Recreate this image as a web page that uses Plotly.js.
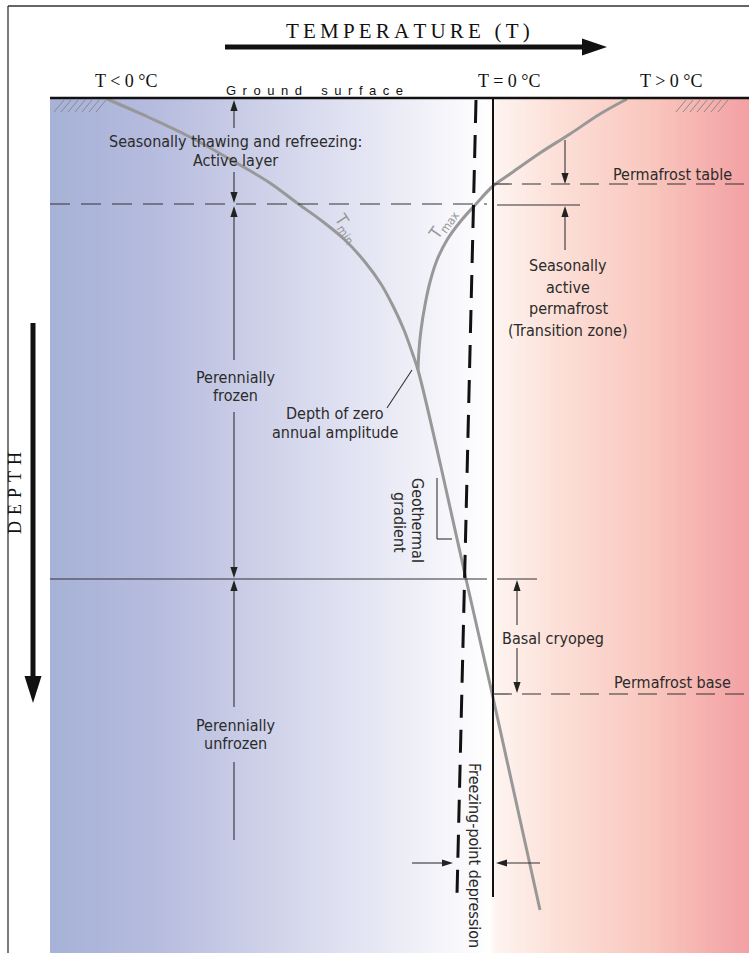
<!DOCTYPE html>
<html><head><meta charset="utf-8">
<script src="https://cdn.plot.ly/plotly-3.0.1.min.js"></script>
<style>html,body{margin:0;padding:0;background:#fff}</style>
</head><body><div id="chart" style="width:749px;height:953px"></div>
<script>
// Diagram units: x = temperature position across the drawing, y = depth position (down is deeper)
const groundDepth = 98;
const zeroT = 493;
const tableDepth = 184;
const activeBase = 204;
const frozenBase = 579;
const pfBaseDepth = 694;
const profileBottom = 897;

// T min profile (cold season) and its continuation below the depth of zero annual amplitude
const tminT     = [107, 148, 190, 240, 270, 297, 322, 345, 365, 381, 393, 404, 412, 418, 441, 466, 492, 540];
const tminDepth = [ 99, 117, 137, 165, 183, 203, 221, 240, 262, 284, 306, 330, 352, 370, 467, 579, 693, 910];
// T max profile (warm season)
const tmaxT     = [627, 600, 570, 540, 510, 493, 476, 460, 447, 437, 430, 425, 421, 419, 418];
const tmaxDepth = [ 99, 114, 134, 153, 174, 186, 204, 222, 240, 260, 282, 305, 330, 350, 370];
// depressed freezing point line
const fpT     = [476, 457];
const fpDepth = [100, 895];
// 0 °C line
const zeroLineT = [zeroT, zeroT];
const zeroLineDepth = [groundDepth, profileBottom];

// background temperature gradient stops (cold -> warm)
const gradPos = [50, 150, 250, 350, 440, 490, 495, 550, 650, 749];
const gradCol = ['rgb(166,178,215)','rgb(181,187,222)','rgb(203,206,231)','rgb(225,226,242)',
                 'rgb(244,244,250)','rgb(255,255,255)','rgb(254,244,240)','rgb(252,226,218)',
                 'rgb(249,199,190)','rgb(243,160,163)'];

// hatch marks at ground surface
const hatchLeft = [54, 61, 68, 75, 82, 89, 96];
const hatchRight = [676, 683, 690, 697, 704, 711, 718];

const sans = 'Liberation Sans Narrow, DejaVu Sans Condensed, Roboto, Arial Narrow, sans-serif';
const serif = 'Liberation Serif, Times New Roman, serif';
const txtCol = '#2b2b2b';

// ---- background heatmap
const gmin = gradPos[0], gmax = gradPos[gradPos.length-1];
const colorscale = gradPos.map((p,i)=>[(p-gmin)/(gmax-gmin), gradCol[i]]);
const edges = [];
for (let x = 50; x < zeroT; x += 2) edges.push(x);
for (let x = zeroT; x < 749; x += 2) edges.push(x);
edges.push(749);
const zrow = [];
for (let i = 0; i < edges.length-1; i++) zrow.push((edges[i]+edges[i+1])/2);

const traces = [];
traces.push({type:'heatmap', x: edges, y:[groundDepth, 953], z:[zrow], colorscale, zmin:gmin, zmax:gmax,
  showscale:false, hoverinfo:'skip', zsmooth:false});

// hatches
function hatchTrace(xs){
  const X=[],Y=[];
  xs.forEach(x=>{X.push(x, x+10, null); Y.push(112, 100, null);});
  return {type:'scatter', mode:'lines', x:X, y:Y, line:{color:'#8a8a8a', width:1}, hoverinfo:'skip', showlegend:false};
}
traces.push(hatchTrace(hatchLeft));
traces.push(hatchTrace(hatchRight));

// curves
traces.push({type:'scatter', mode:'lines', x:tminT, y:tminDepth, line:{color:'rgb(152,152,152)', width:3, shape:'spline', smoothing:1}, hoverinfo:'skip', showlegend:false});
traces.push({type:'scatter', mode:'lines', x:tmaxT, y:tmaxDepth, line:{color:'rgb(152,152,152)', width:3, shape:'spline', smoothing:1}, hoverinfo:'skip', showlegend:false});
traces.push({type:'scatter', mode:'lines', x:fpT, y:fpDepth, line:{color:'#111', width:3, dash:'23px,12px'}, hoverinfo:'skip', showlegend:false});
traces.push({type:'scatter', mode:'lines', x:zeroLineT, y:zeroLineDepth, line:{color:'#111', width:2}, hoverinfo:'skip', showlegend:false});

// ---- shapes
const shapes = [];
function seg(x0,y0,x1,y1,color,width,dash){
  shapes.push({type:'line', xref:'x', yref:'y', x0, y0, x1, y1, line:{color, width, dash:dash||'solid'}, layer:'above'});
}
function tri(xt,yt,dir,len,half,color){
  let p;
  if (dir==='up')    p=`M${xt},${yt} L${xt-half},${yt+len} L${xt+half},${yt+len} Z`;
  if (dir==='down')  p=`M${xt},${yt} L${xt-half},${yt-len} L${xt+half},${yt-len} Z`;
  if (dir==='right') p=`M${xt},${yt} L${xt-len},${yt-half} L${xt-len},${yt+half} Z`;
  if (dir==='left')  p=`M${xt},${yt} L${xt+len},${yt-half} L${xt+len},${yt+half} Z`;
  shapes.push({type:'path', xref:'x', yref:'y', path:p, fillcolor:color, line:{width:0}, layer:'above'});
}
function arrowV(x, yFrom, yTip){
  const dir = yTip < yFrom ? 'up' : 'down';
  const len = 11;
  const base = dir==='up' ? yTip+len : yTip-len;
  seg(x, yFrom, x, base, '#333', 1.1);
  tri(x, yTip, dir, len, 3.6, '#222');
}
function arrowH(y, xFrom, xTip){
  const dir = xTip > xFrom ? 'right' : 'left';
  const len = 11;
  const base = dir==='right' ? xTip-len : xTip+len;
  seg(xFrom, y, base, y, '#333', 1.1);
  tri(xTip, y, dir, len, 3.6, '#222');
}

// frame
seg(8, 6, 749, 6, '#333', 1.3);
seg(8, 6, 8, 953, '#333', 1.3);
// ground surface
seg(50, groundDepth, 749, groundDepth, '#111', 2.5);
// horizontal level lines
seg(50, activeBase, 487, activeBase, '#333', 1.2, '20px,11px');
seg(497, activeBase+1, 580, activeBase+1, '#333', 1.2);
seg(zeroT, tableDepth, 749, tableDepth, '#333', 1.2, '19px,10px');
seg(50, frozenBase, 487, frozenBase, '#333', 1.2);
seg(497, frozenBase, 537, frozenBase, '#333', 1.2);
seg(zeroT, pfBaseDepth, 749, pfBaseDepth, '#333', 1.2, '19px,10px');

// left vertical dimension arrows
arrowV(234, 128, groundDepth+2);
arrowV(234, 172, activeBase-1);
arrowV(234, 360, activeBase+2);
arrowV(234, 412, frozenBase-1);
arrowV(234, 707, frozenBase+1);
seg(234, 762, 234, 840, '#333', 1.1);
// right dimension arrows
arrowV(565, 140, tableDepth);
arrowV(565, 250, activeBase+2);
arrowV(517, 625, frozenBase+1);
arrowV(517, 648, pfBaseDepth-1);
// freezing point depression arrows
arrowH(863, 412, 453);
arrowH(863, 540, 496);
// leader and gradient bracket
seg(387, 408, 412, 370, '#333', 1.1);
seg(437, 478, 437, 539, '#333', 1.1);
seg(437, 539, 452, 539, '#333', 1.1);

// big axis arrows
seg(225, 47, 584, 47, '#111', 5);
tri(607, 47, 'right', 25, 8.5, '#111');
seg(33, 323, 33, 678, '#111', 5);
tri(33, 703, 'down', 27, 8.5, '#111');

// ---- annotations
const ann = [];
function txt(x, y, text, o){
  o = o || {};
  ann.push({x, y, xref:'x', yref:'y', text, showarrow:false, xanchor:o.xanchor||'center', yanchor:'middle',
    textangle:o.angle||0, font:{family:o.family||sans, size:o.size||16, color:o.color||txtCol}});
}
const ts = '\u2009';
txt(408, 31, 'TEMPERATURE (T)'.split('').join(ts), {family:serif, size:21, color:'#111'});
txt(126, 81, 'T < 0 °C', {family:serif, size:18, color:'#111'});
txt(509, 81, 'T = 0 °C', {family:serif, size:18, color:'#111'});
txt(671, 81, 'T > 0 °C', {family:serif, size:18, color:'#111'});
txt(15, 493, 'DEPTH'.split('').join('\u2004'), {family:serif, size:18, color:'#111', angle:-90});
txt(314, 90, 'Ground surface'.split('').map(c=>c===' '?'\u2002':c).join('\u2002'), {size:13, color:'#111', family:'Liberation Sans, Arial, sans-serif'});

txt(235, 141, 'Seasonally thawing and refreezing:');
txt(235, 160, 'Active layer');
txt(235, 377, 'Perennially');
txt(235, 395, 'frozen');
txt(335, 413, 'Depth of zero');
txt(335, 432, 'annual amplitude');
txt(235, 725, 'Perennially');
txt(235, 743, 'unfrozen');
txt(672, 174, 'Permafrost table');
txt(568, 265, 'Seasonally');
txt(568, 287, 'active');
txt(568, 308, 'permafrost');
txt(568, 330, '(Transition zone)');
txt(500, 638, 'Basal cryopeg', {xanchor:'left'});
txt(672, 682, 'Permafrost base');
txt(418, 520, 'Geothermal', {angle:90});
txt(400, 522, 'gradient', {angle:90});
txt(475, 855, 'Freezing-point depression', {angle:90});
txt(346, 228, 'T<sub>min</sub>', {angle:57, color:'rgb(150,150,150)', size:17});
txt(443, 224, 'T<sub>max</sub>', {angle:-55, color:'rgb(150,150,150)', size:17});

const layout = {
  width:749, height:953, margin:{l:0,r:0,t:0,b:0},
  paper_bgcolor:'#fff', plot_bgcolor:'#fff', showlegend:false,
  xaxis:{range:[0,749], visible:false, fixedrange:true},
  yaxis:{range:[953,0], visible:false, fixedrange:true},
  shapes, annotations:ann, hovermode:false
};
Plotly.newPlot('chart', traces, layout, {staticPlot:true, displayModeBar:false});
</script></body></html>
